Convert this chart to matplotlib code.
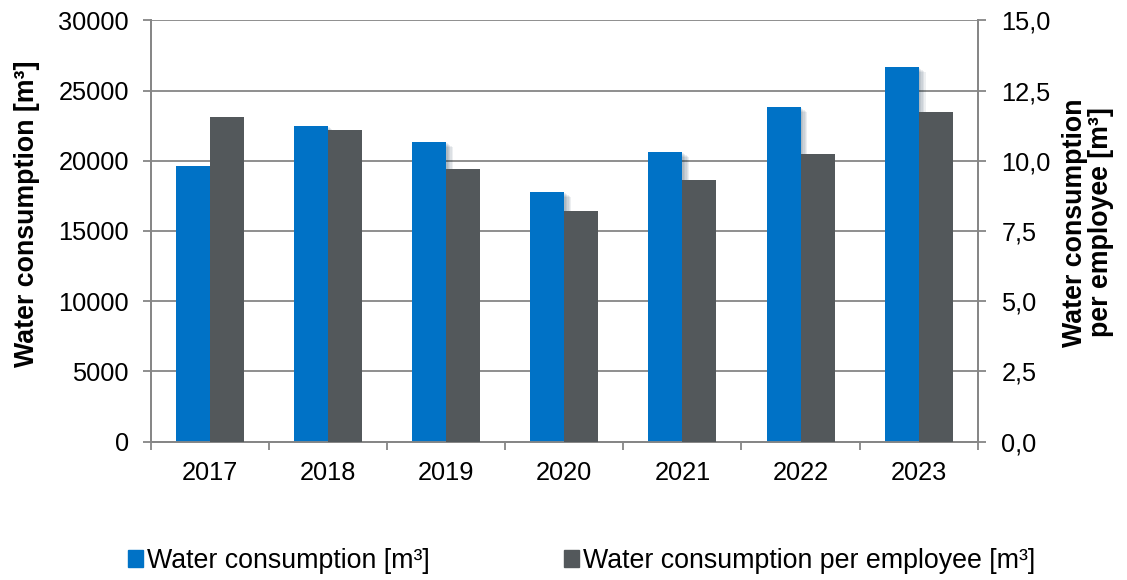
import matplotlib
matplotlib.use("Agg")
import matplotlib.pyplot as plt
import matplotlib.patheffects as pe
from matplotlib.ticker import FuncFormatter, FixedLocator
import numpy as np

plt.rcParams['font.family'] = ['Liberation Sans', 'DejaVu Sans']

years = ['2017', '2018', '2019', '2020', '2021', '2022', '2023']
water_total = [19600, 22500, 21300, 17800, 20600, 23800, 26650]
water_per_emp = [11.55, 11.1, 9.7, 8.2, 9.3, 10.23, 11.72]

blue = '#0072C6'
grey = '#53585B'
axcol = '#868686'
fs = 18.3     # tick labels
fs_lab = 19.3  # axis titles + legend

fig = plt.figure(figsize=(11.27, 5.8), dpi=100)
ax = fig.add_axes([0.134, 0.2385, 0.7335, 0.7265])
ax2 = ax.twinx()

x = np.arange(len(years))
w = 0.288

# soft shadow = a few stacked offsets
shadow = [pe.SimplePatchShadow(offset=(k, -k * 0.7), alpha=0.07) for k in (1, 2, 3, 4, 5)]
ax.bar(x - w / 2, water_total, w, color=blue, zorder=3,
       path_effects=shadow + [pe.Normal()])
ax2.bar(x + w / 2, water_per_emp, w, color=grey, zorder=3)

ax.set_xlim(-0.5, len(years) - 0.5)
ax.set_ylim(0, 30000)
ax2.set_ylim(0, 15)
ax.set_yticks(np.arange(0, 30001, 5000))
ax2.set_yticks(np.arange(0, 15.01, 2.5))
ax2.yaxis.set_major_formatter(FuncFormatter(lambda v, p: f"{v:.1f}".replace('.', ',')))

ax.set_xticks(x)
ax.set_xticklabels(years)
ax.xaxis.set_minor_locator(FixedLocator(np.arange(-0.5, len(years), 1.0)))
ax.tick_params(axis='x', which='major', length=0, pad=14, labelsize=fs)
ax.tick_params(axis='x', which='minor', length=6, width=1.3, color=axcol, direction='out')
ax.tick_params(axis='y', length=6, width=1.3, color=axcol, labelsize=fs, pad=10)
ax2.tick_params(axis='y', length=6, width=1.3, color=axcol, labelsize=fs, pad=11)

ax.grid(axis='y', color=axcol, linewidth=1.3, zorder=0)
ax.set_axisbelow(True)
for a in (ax, ax2):
    a.spines['top'].set_visible(False)
    for s in ('left', 'right', 'bottom'):
        a.spines[s].set_color(axcol)
        a.spines[s].set_linewidth(1.3)

ax.set_ylabel('Water consumption [m³]', fontsize=fs_lab, fontweight='bold', labelpad=13)
ax2.set_ylabel('Water consumption\nper employee [m³]', fontsize=fs_lab, fontweight='bold',
               labelpad=8, linespacing=1.0)
ax.yaxis.label.set_y(0.54)
ax2.yaxis.label.set_y(0.52)

handles = [plt.Rectangle((0, 0), 1, 1, color=blue), plt.Rectangle((0, 0), 1, 1, color=grey)]
fig.legend(handles, ['Water consumption [m³]', 'Water consumption per employee [m³]'],
           loc='center', bbox_to_anchor=(0.516, 0.033), ncol=2, frameon=False,
           fontsize=fs_lab, handlelength=0.56, handleheight=0.56, handletextpad=0.15,
           columnspacing=5.0, borderpad=0)

fig.savefig('out.png', dpi=100)
